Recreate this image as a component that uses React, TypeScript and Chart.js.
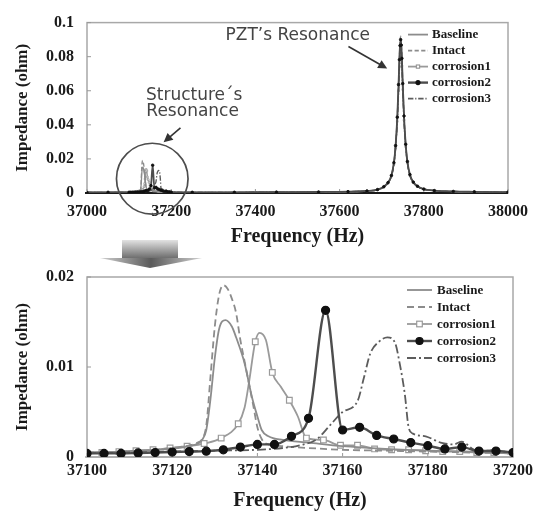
import React, { useEffect, useRef } from 'react';
import { Chart, registerables } from 'chart.js';

Chart.register(...registerables);

// ---------------- data ----------------
const seriesNames = ['Baseline', 'Intact', 'corrosion1', 'corrosion2', 'corrosion3'];

const topXTicks = [37000, 37200, 37400, 37600, 37800, 38000];
const topXLabels = ['37000', '37200', '37400', '37600', '37800', '38000'];
const topYTicks = [0, 0.02, 0.04, 0.06, 0.08, 0.1];
const topYLabels = ['0', '0.02', '0.04', '0.06', '0.08', '0.1'];

const lowXTicks = [37100, 37120, 37140, 37160, 37180, 37200];
const lowXLabels = ['37100', '37120', '37140', '37160', '37180', '37200'];
const lowYTicks = [0, 0.01, 0.02];
const lowYLabels = ['0', '0.01', '0.02'];

// zoomed structure-resonance region (37100 - 37200 Hz)
const baselineFreq = [37100, 37108, 37116, 37120, 37124, 37126, 37127, 37128, 37129, 37130, 37131, 37132.5, 37134, 37135, 37137, 37138.7, 37140, 37141, 37142.6, 37146, 37152, 37160, 37170, 37180, 37190, 37200];
const baselineImp = [0.0005, 0.0006, 0.0008, 0.0009, 0.0012, 0.0015, 0.0019, 0.003, 0.0065, 0.011, 0.0142, 0.0152, 0.0145, 0.0133, 0.0104, 0.0067, 0.0045, 0.003, 0.0023, 0.0019, 0.0016, 0.0012, 0.0009, 0.0007, 0.0006, 0.0004];

const intactFreq = [37100, 37108, 37116, 37120, 37124, 37126, 37127, 37128, 37129, 37130, 37131, 37132, 37133, 37134, 37135, 37136, 37137, 37138, 37139, 37140, 37141, 37142, 37146, 37152, 37160, 37170, 37180, 37190, 37200];
const intactImp = [0.0005, 0.0006, 0.0008, 0.001, 0.0013, 0.0016, 0.002, 0.0035, 0.009, 0.0145, 0.018, 0.0191, 0.0187, 0.0176, 0.016, 0.013, 0.0106, 0.0082, 0.0058, 0.0033, 0.002, 0.0015, 0.0012, 0.001, 0.0008, 0.0007, 0.0006, 0.0005, 0.0004];

const corr1Freq = [37100, 37103.5, 37107.5, 37111.5, 37115.5, 37119.5, 37123.5, 37127.5, 37131.5, 37135.5, 37137, 37138, 37139.5, 37140.5, 37142, 37143.5, 37145.5, 37147.5, 37149.5, 37151.5, 37155.5, 37159.5, 37163.5, 37167.5, 37171.5, 37175.5, 37179.5, 37183.5, 37187.5, 37191.5, 37195.5, 37200];
const corr1Imp = [0.0005, 0.0005, 0.0006, 0.0007, 0.0008, 0.001, 0.0012, 0.0015, 0.0021, 0.0037, 0.0055, 0.0082, 0.0128, 0.0138, 0.013, 0.0094, 0.0078, 0.0063, 0.0045, 0.0021, 0.0019, 0.0013, 0.0013, 0.0009, 0.0008, 0.0008, 0.0007, 0.0006, 0.0006, 0.0005, 0.0005, 0.0004];
const corr1MarkerFreq = [37103.5, 37107.5, 37111.5, 37115.5, 37119.5, 37123.5, 37127.5, 37131.5, 37135.5, 37139.5, 37143.5, 37147.5, 37151.5, 37155.5, 37159.5, 37163.5, 37167.5, 37171.5, 37175.5, 37179.5, 37183.5, 37187.5, 37191.5, 37195.5];

const corr2Freq = [37100, 37104, 37108, 37112, 37116, 37120, 37124, 37128, 37132, 37136, 37140, 37144, 37148, 37152, 37156, 37160, 37164, 37168, 37172, 37176, 37180, 37184, 37188, 37192, 37196, 37200];
const corr2Imp = [0.0004, 0.0004, 0.0004, 0.00045, 0.0005, 0.00055, 0.0006, 0.00065, 0.0008, 0.0011, 0.0014, 0.0014, 0.0023, 0.0043, 0.0163, 0.003, 0.0033, 0.0024, 0.002, 0.0016, 0.00126, 0.0009, 0.0011, 0.00066, 0.00066, 0.0005];

const corr3Freq = [37100, 37110, 37120, 37130, 37140, 37146, 37150, 37154, 37157, 37160, 37163.5, 37165, 37166.5, 37168.5, 37170.5, 37172.3, 37173.4, 37174.6, 37175.5, 37176.5, 37179.5, 37183, 37186, 37188, 37191, 37195, 37200];
const corr3Imp = [0.0004, 0.0005, 0.0006, 0.0007, 0.0008, 0.001, 0.0013, 0.002, 0.0035, 0.005, 0.0062, 0.0088, 0.0115, 0.0128, 0.0133, 0.0127, 0.0104, 0.007, 0.0033, 0.0026, 0.0023, 0.0016, 0.0014, 0.0017, 0.0008, 0.0007, 0.0005];

// full-range extras (top chart)
const leadFreq = [37000, 37050];
const leadImp = [0.0003, 0.0004];

const pztFreq = [37250, 37350, 37450, 37550, 37620, 37665, 37690, 37705, 37715, 37723, 37729, 37733, 37737, 37740, 37742, 37743.5, 37745, 37746.5, 37748, 37750, 37753, 37757, 37761, 37767, 37775, 37785, 37800, 37825, 37870, 37920, 38000];
const pztBaseline = [0.0004, 0.0004, 0.0005, 0.0006, 0.0008, 0.0012, 0.0019, 0.0036, 0.006, 0.0101, 0.0175, 0.0272, 0.0435, 0.062, 0.0765, 0.0845, 0.088, 0.0848, 0.0772, 0.0628, 0.0442, 0.028, 0.0182, 0.0106, 0.0063, 0.0039, 0.0023, 0.0014, 0.0009, 0.0007, 0.0005];
const pztIntact = [0.0004, 0.0004, 0.0005, 0.0006, 0.0008, 0.0012, 0.002, 0.0037, 0.0062, 0.0105, 0.018, 0.0284, 0.0455, 0.065, 0.08, 0.0885, 0.092, 0.0887, 0.0806, 0.0655, 0.046, 0.029, 0.0188, 0.0109, 0.0064, 0.004, 0.0023, 0.0014, 0.0009, 0.0007, 0.0005];
const pztCorr1 = [0.0004, 0.0004, 0.0005, 0.0006, 0.0008, 0.0012, 0.0019, 0.0035, 0.0058, 0.0098, 0.017, 0.0263, 0.042, 0.06, 0.074, 0.0817, 0.085, 0.082, 0.0746, 0.0607, 0.0428, 0.0271, 0.0176, 0.0103, 0.0061, 0.0038, 0.0022, 0.0014, 0.0009, 0.0007, 0.0005];
const pztCorr2 = [0.0004, 0.0004, 0.0005, 0.0006, 0.0008, 0.0012, 0.002, 0.0037, 0.0061, 0.0103, 0.0178, 0.0278, 0.0445, 0.0636, 0.0782, 0.0865, 0.09, 0.0868, 0.079, 0.0642, 0.0452, 0.0286, 0.0185, 0.0108, 0.0064, 0.004, 0.0023, 0.0014, 0.0009, 0.0007, 0.0005];
const pztCorr3 = [0.0004, 0.0004, 0.0005, 0.0006, 0.0008, 0.0012, 0.0019, 0.0034, 0.0057, 0.0096, 0.0166, 0.0257, 0.0411, 0.0587, 0.0722, 0.0798, 0.083, 0.08, 0.0728, 0.0592, 0.0418, 0.0265, 0.0172, 0.0101, 0.006, 0.0037, 0.0022, 0.0014, 0.0009, 0.0007, 0.0005];

// annotation anchors (data units of the top chart)
const structCircleCenter = [37155, 0.0084];
const structCircleRadius = [85, 0.0208];
const structArrow = [[37222, 0.0382], [37182, 0.0298]];
const structText = [[37140, 0.0573, 'Structure´s'], [37141, 0.0478, 'Resonance']];
const pztArrow = [[37621, 0.086], [37713, 0.073]];
const pztText = [37329, 0.0921, 'PZT’s Resonance'];

// ---------------- styles ----------------
type Style = { color: string; width: number; dash: number[]; marker: string; fill: string; stroke: string; order: number };
const STYLE: Record<string, Style> = {
  Baseline: { color: '#8c8c8c', width: 1.8, dash: [], marker: 'none', fill: '#fff', stroke: '#8c8c8c', order: 3 },
  Intact: { color: '#8c8c8c', width: 1.8, dash: [7, 4], marker: 'none', fill: '#fff', stroke: '#8c8c8c', order: 2 },
  corrosion1: { color: '#9a9a9a', width: 1.8, dash: [], marker: 'square', fill: '#ffffff', stroke: '#9a9a9a', order: 4 },
  corrosion2: { color: '#4d4d4d', width: 2.4, dash: [], marker: 'circle', fill: '#111111', stroke: '#111111', order: 0 },
  corrosion3: { color: '#5c5c5c', width: 1.8, dash: [9, 3, 2, 3], marker: 'none', fill: '#fff', stroke: '#5c5c5c', order: 1 },
};

const SERIF = '"Liberation Serif", "Times New Roman", serif';
const SANS = '"DejaVu Sans", Verdana, sans-serif';

function pts(xs: number[], ys: number[]) {
  return xs.map((x, i) => ({ x, y: ys[i] }));
}

function makeDataset(name: string, data: { x: number; y: number }[], top: boolean) {
  const s = STYLE[name];
  let radius: any = 0;
  if (s.marker === 'circle') radius = top ? 1.3 : 4;
  if (s.marker === 'square') {
    radius = top ? 1.2 : (ctx: any) => (ctx.raw && corr1MarkerFreq.includes(ctx.raw.x) ? 4 : 0);
  }
  return {
    label: name,
    data,
    borderColor: s.color,
    borderWidth: top ? Math.max(1.2, s.width * 0.75) : s.width,
    borderDash: top ? s.dash.map((d) => d * 0.6) : s.dash,
    backgroundColor: s.fill,
    pointStyle: s.marker === 'square' ? 'rect' : 'circle',
    pointRadius: radius,
    pointHoverRadius: radius,
    pointBackgroundColor: s.fill,
    pointBorderColor: s.stroke,
    pointBorderWidth: top ? 0.8 : 1.2,
    cubicInterpolationMode: 'monotone',
    tension: 0.4,
    fill: false,
    order: s.order,
  };
}

const lowerData: Record<string, { x: number; y: number }[]> = {
  Baseline: pts(baselineFreq, baselineImp),
  Intact: pts(intactFreq, intactImp),
  corrosion1: pts(corr1Freq, corr1Imp),
  corrosion2: pts(corr2Freq, corr2Imp),
  corrosion3: pts(corr3Freq, corr3Imp),
};
const pztData: Record<string, number[]> = {
  Baseline: pztBaseline,
  Intact: pztIntact,
  corrosion1: pztCorr1,
  corrosion2: pztCorr2,
  corrosion3: pztCorr3,
};
const topData: Record<string, { x: number; y: number }[]> = {};
seriesNames.forEach((n) => {
  topData[n] = [...pts(leadFreq, leadImp), ...lowerData[n], ...pts(pztFreq, pztData[n])];
});

// ---------------- plugins ----------------
function drawMarker(ctx: CanvasRenderingContext2D, kind: string, x: number, y: number, r: number, s: Style) {
  ctx.setLineDash([]);
  ctx.lineWidth = 1.2;
  ctx.fillStyle = s.fill;
  ctx.strokeStyle = s.stroke;
  if (kind === 'square') {
    ctx.fillRect(x - r, y - r, 2 * r, 2 * r);
    ctx.strokeRect(x - r, y - r, 2 * r, 2 * r);
  } else if (kind === 'circle') {
    ctx.beginPath();
    ctx.arc(x, y, r, 0, Math.PI * 2);
    ctx.fill();
    ctx.stroke();
  }
}

function legendPlugin(cfg: { y0: number; dy: number; l0: number; l1: number; t: number; mr: number; scaleDash: number }) {
  return {
    id: 'customLegend',
    afterDraw(chart: any) {
      const { ctx, chartArea } = chart;
      ctx.save();
      ctx.font = `bold 13px ${SERIF}`;
      ctx.textBaseline = 'middle';
      ctx.textAlign = 'left';
      seriesNames.forEach((name, i) => {
        const s = STYLE[name];
        const y = chartArea.top + cfg.y0 + i * cfg.dy;
        const x0 = chartArea.right - cfg.l0;
        const x1 = chartArea.right - cfg.l1;
        ctx.strokeStyle = s.color;
        ctx.lineWidth = s.width;
        ctx.setLineDash(s.dash.map((d) => d * cfg.scaleDash));
        ctx.beginPath();
        ctx.moveTo(x0, y);
        ctx.lineTo(x1, y);
        ctx.stroke();
        if (s.marker !== 'none') drawMarker(ctx, s.marker, (x0 + x1) / 2, y, s.marker === 'circle' ? cfg.mr : cfg.mr * 0.8, s);
        ctx.fillStyle = '#1a1a1a';
        ctx.fillText(name, chartArea.right - cfg.t, y + 0.5);
      });
      ctx.restore();
    },
  };
}

function framePlugin(bottomColor: string, bottomWidth: number) {
  return {
    id: 'frame',
    beforeDatasetsDraw(chart: any) {
      const { ctx, chartArea: a, scales } = chart;
      ctx.save();
      ctx.strokeStyle = '#a8a8a8';
      ctx.lineWidth = 1.5;
      ctx.strokeRect(a.left, a.top, a.right - a.left, a.bottom - a.top);
      ctx.strokeStyle = '#999';
      ctx.lineWidth = 1;
      scales.x.ticks.forEach((t: any) => {
        const px = scales.x.getPixelForValue(t.value);
        ctx.beginPath();
        ctx.moveTo(px, a.bottom);
        ctx.lineTo(px, a.bottom - 4);
        ctx.stroke();
      });
      scales.y.ticks.forEach((t: any) => {
        const py = scales.y.getPixelForValue(t.value);
        ctx.beginPath();
        ctx.moveTo(a.left, py);
        ctx.lineTo(a.left + 4, py);
        ctx.stroke();
      });
      ctx.strokeStyle = bottomColor;
      ctx.lineWidth = bottomWidth;
      ctx.beginPath();
      ctx.moveTo(a.left - 2, a.bottom);
      ctx.lineTo(a.right, a.bottom);
      ctx.stroke();
      ctx.restore();
    },
  };
}

function drawArrow(ctx: CanvasRenderingContext2D, x0: number, y0: number, x1: number, y1: number, color: string) {
  const ang = Math.atan2(y1 - y0, x1 - x0);
  const head = 9;
  const hw = 4.5;
  ctx.strokeStyle = color;
  ctx.fillStyle = color;
  ctx.lineWidth = 1.6;
  ctx.setLineDash([]);
  ctx.beginPath();
  ctx.moveTo(x0, y0);
  ctx.lineTo(x1 - Math.cos(ang) * head * 0.8, y1 - Math.sin(ang) * head * 0.8);
  ctx.stroke();
  ctx.beginPath();
  ctx.moveTo(x1, y1);
  ctx.lineTo(x1 - head * Math.cos(ang) + hw * Math.sin(ang), y1 - head * Math.sin(ang) - hw * Math.cos(ang));
  ctx.lineTo(x1 - head * Math.cos(ang) - hw * Math.sin(ang), y1 - head * Math.sin(ang) + hw * Math.cos(ang));
  ctx.closePath();
  ctx.fill();
}

const annotationPlugin = {
  id: 'annot',
  afterDatasetsDraw(chart: any) {
    const { ctx, scales } = chart;
    const X = (v: number) => scales.x.getPixelForValue(v);
    const Y = (v: number) => scales.y.getPixelForValue(v);
    ctx.save();
    const cx = X(structCircleCenter[0]);
    const cy = Y(structCircleCenter[1]);
    const rx = X(structCircleCenter[0] + structCircleRadius[0]) - cx;
    const ry = cy - Y(structCircleCenter[1] + structCircleRadius[1]);
    ctx.strokeStyle = '#4d4d4d';
    ctx.lineWidth = 1.7;
    ctx.beginPath();
    ctx.ellipse(cx, cy, rx, ry, 0, 0, Math.PI * 2);
    ctx.stroke();
    drawArrow(ctx, X(structArrow[0][0]), Y(structArrow[0][1]), X(structArrow[1][0]), Y(structArrow[1][1]), '#333');
    drawArrow(ctx, X(pztArrow[0][0]), Y(pztArrow[0][1]), X(pztArrow[1][0]), Y(pztArrow[1][1]), '#333');
    ctx.font = `17px ${SANS}`;
    ctx.fillStyle = '#444';
    ctx.textAlign = 'left';
    ctx.textBaseline = 'middle';
    structText.forEach((t: any) => ctx.fillText(t[2], X(t[0]), Y(t[1])));
    ctx.fillText(pztText[2] as string, X(pztText[0] as number), Y(pztText[1] as number));
    ctx.restore();
  },
};

const downArrowPlugin = {
  id: 'downArrow',
  afterDraw(chart: any) {
    const { ctx, chartArea: a } = chart;
    const L = a.left;
    const T = a.top;
    ctx.save();
    const g1 = ctx.createLinearGradient(0, T - 37, 0, T - 19);
    g1.addColorStop(0, '#e2e2e2');
    g1.addColorStop(1, '#6e6e6e');
    ctx.fillStyle = g1;
    ctx.fillRect(L + 35, T - 37, 56, 18);
    const g2 = ctx.createLinearGradient(L + 13, 0, L + 115, 0);
    g2.addColorStop(0, '#d0d0d0');
    g2.addColorStop(0.5, '#5a5a5a');
    g2.addColorStop(1, '#d0d0d0');
    ctx.fillStyle = g2;
    ctx.beginPath();
    ctx.moveTo(L + 13, T - 19);
    ctx.lineTo(L + 115, T - 19);
    ctx.lineTo(L + 63, T - 9);
    ctx.closePath();
    ctx.fill();
    ctx.restore();
  },
};

// ---------------- options ----------------
function makeConfig(cfg: any) {
  const tickFont = { family: SERIF, size: 16, weight: 'bold' as const };
  return {
    type: 'line' as const,
    data: {
      datasets: seriesNames.map((n) => makeDataset(n, cfg.data[n], cfg.top)),
    },
    options: {
      responsive: true,
      maintainAspectRatio: false,
      animation: false as const,
      events: [],
      layout: { padding: { left: 0, right: cfg.padRight, top: cfg.padTop, bottom: cfg.padBottom } },
      plugins: { legend: { display: false }, tooltip: { enabled: false } },
      scales: {
        x: {
          type: 'linear' as const,
          min: cfg.xTicks[0],
          max: cfg.xTicks[cfg.xTicks.length - 1],
          afterBuildTicks: (s: any) => {
            s.ticks = cfg.xTicks.map((v: number) => ({ value: v }));
          },
          afterFit: (s: any) => {
            s.height = cfg.xHeight;
          },
          ticks: {
            callback: (v: number) => cfg.xLabels[cfg.xTicks.indexOf(v)],
            font: tickFont,
            color: '#1a1a1a',
            padding: cfg.xPad,
            maxRotation: 0,
            autoSkip: false,
          },
          grid: { display: false, drawTicks: false },
          border: { display: false },
          title: {
            display: true,
            text: 'Frequency (Hz)',
            font: { family: SERIF, size: 20, weight: 'bold' as const },
            color: '#1a1a1a',
            padding: { top: 0, bottom: cfg.xTitlePad },
          },
        },
        y: {
          type: 'linear' as const,
          min: 0,
          max: cfg.yTicks[cfg.yTicks.length - 1],
          afterBuildTicks: (s: any) => {
            s.ticks = cfg.yTicks.map((v: number) => ({ value: v }));
          },
          afterFit: (s: any) => {
            s.width = 87;
          },
          ticks: {
            callback: (v: number) => cfg.yLabels[cfg.yTicks.indexOf(v)],
            font: tickFont,
            color: '#1a1a1a',
            padding: 13,
            autoSkip: false,
          },
          grid: { display: false, drawTicks: false },
          border: { display: false },
          title: {
            display: true,
            text: 'Impedance (ohm)',
            font: { family: SERIF, size: 17, weight: 'bold' as const },
            color: '#1a1a1a',
            padding: { top: 12, bottom: 0 },
          },
        },
      },
    },
    plugins: cfg.plugins,
  };
}

function ChartBox({ config, style }: { config: () => any; style: React.CSSProperties }) {
  const ref = useRef<HTMLCanvasElement>(null);
  useEffect(() => {
    const chart = new Chart(ref.current as HTMLCanvasElement, config());
    return () => chart.destroy();
  }, []);
  return (
    <div style={style}>
      <canvas ref={ref} />
    </div>
  );
}

export default function App() {
  const topConfig = () =>
    makeConfig({
      top: true,
      data: topData,
      xTicks: topXTicks,
      xLabels: topXLabels,
      yTicks: topYTicks,
      yLabels: topYLabels,
      padRight: 22,
      padTop: 15,
      padBottom: 1,
      xHeight: 56,
      xPad: 9,
      xTitlePad: 0,
      plugins: [framePlugin('#1a1a1a', 2), annotationPlugin, legendPlugin({ y0: 12, dy: 16, l0: 100, l1: 80, t: 76, mr: 2, scaleDash: 0.6 })],
    });
  const lowConfig = () =>
    makeConfig({
      top: false,
      data: lowerData,
      xTicks: lowXTicks,
      xLabels: lowXLabels,
      yTicks: lowYTicks,
      yLabels: lowYLabels,
      padRight: 23,
      padTop: 42,
      padBottom: 0,
      xHeight: 56,
      xPad: 4,
      xTitlePad: 0,
      plugins: [framePlugin('#a8a8a8', 1.5), downArrowPlugin, legendPlugin({ y0: 13, dy: 17, l0: 106, l1: 81, t: 76, mr: 3.5, scaleDash: 1 })],
    });
  return (
    <div>
      <ChartBox config={topConfig} style={{ position: 'absolute', left: 0, top: 0, width: 537, height: 250 }} />
      <ChartBox config={lowConfig} style={{ position: 'absolute', left: 0, top: 235, width: 537, height: 278 }} />
    </div>
  );
}
